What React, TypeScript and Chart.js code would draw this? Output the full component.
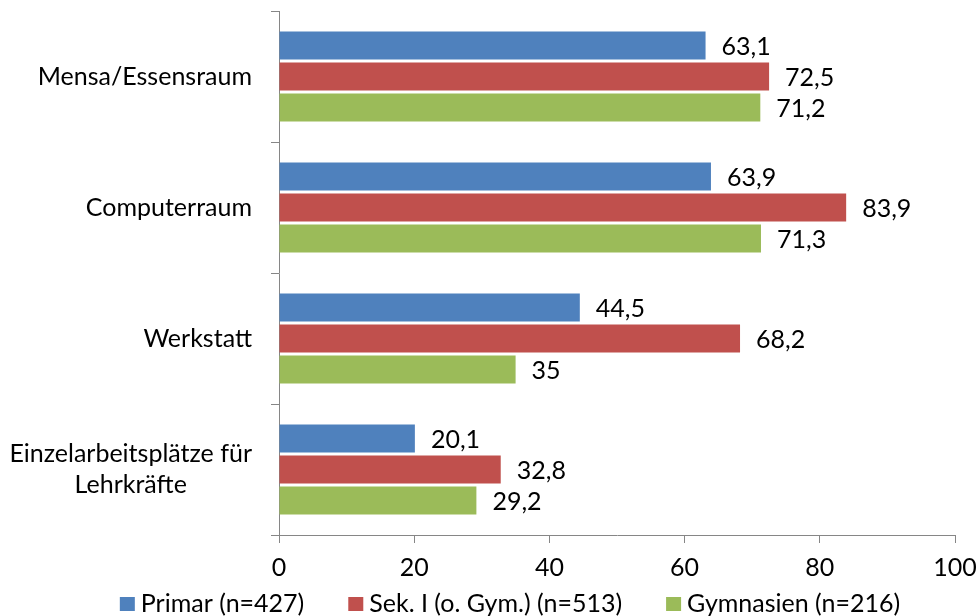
import { useEffect, useRef } from "react";
import { Chart, registerables } from "chart.js";

Chart.register(...registerables);

const categories: (string | string[])[] = [
  "Mensa/Essensraum",
  "Computerraum",
  "Werkstatt",
  ["Einzelarbeitsplätze für", "Lehrkräfte"],
];
const seriesNames = ["Primar (n=427)", "Sek. I (o. Gym.) (n=513)", "Gymnasien (n=216)"];
const primar = [63.1, 63.9, 44.5, 20.1];
const sekI = [72.5, 83.9, 68.2, 32.8];
const gymnasien = [71.2, 71.3, 35, 29.2];
const xTickValues = [0, 20, 40, 60, 80, 100];
const colors = ["#4F81BD", "#C0504D", "#9BBB59"];

const FONT_FAMILY = "Lato, 'Noto Sans', sans-serif";
const FONT_SIZE = 25;
const FONT = `${FONT_SIZE}px ${FONT_FAMILY}`;
const AXIS_COLOR = "#868686";

const fmt = (v: number) => String(v).replace(".", ",");

const yLabelPlugin = {
  id: "yLabels",
  afterDraw(chart: any) {
    const ctx = chart.ctx;
    const y = chart.scales.y;
    ctx.save();
    ctx.font = FONT;
    ctx.fillStyle = "#000";
    ctx.textBaseline = "middle";
    ctx.textAlign = "center";
    categories.forEach((lab, i) => {
      const lines = Array.isArray(lab) ? lab : [lab];
      const w = Math.max(...lines.map((l) => ctx.measureText(l).width));
      const cx = chart.chartArea.left - 27 - w / 2;
      const cy = y.getPixelForValue(i);
      lines.forEach((l, j) => ctx.fillText(l, cx, cy + (j - (lines.length - 1) / 2) * 31));
    });
    ctx.restore();
  },
};

const dataLabelPlugin = {
  id: "dataLabels",
  afterDatasetsDraw(chart: any) {
    const ctx = chart.ctx;
    ctx.save();
    ctx.font = FONT;
    ctx.fillStyle = "#000";
    ctx.textBaseline = "middle";
    ctx.textAlign = "left";
    chart.data.datasets.forEach((ds: any, di: number) => {
      const meta = chart.getDatasetMeta(di);
      meta.data.forEach((el: any, i: number) => {
        ctx.fillText(fmt(ds.data[i]), el.x + 16, el.y + 1);
      });
    });
    ctx.restore();
  },
};

const legendPlugin = {
  id: "customLegend",
  afterDraw(chart: any) {
    const ctx = chart.ctx;
    ctx.save();
    ctx.font = FONT;
    ctx.textBaseline = "middle";
    ctx.textAlign = "left";
    const box = 15;
    const gap = 6;
    const spacing = 44;
    const widths = seriesNames.map((n) => ctx.measureText(n).width);
    const total = widths.reduce((a, w) => a + box + gap + w, 0) + spacing * (seriesNames.length - 1);
    let x = 510 - total / 2;
    const cy = 604;
    seriesNames.forEach((n, i) => {
      ctx.fillStyle = colors[i];
      ctx.fillRect(x, cy - 7, box, 14);
      ctx.fillStyle = "#000";
      ctx.fillText(n, x + box + gap, cy);
      x += box + gap + widths[i] + spacing;
    });
    ctx.restore();
  },
};

export default function App() {
  const ref = useRef<HTMLCanvasElement>(null);
  useEffect(() => {
    document.body.style.margin = "0";
    const chart = new Chart(ref.current!, {
      type: "bar",
      data: {
        labels: categories.map((c) => (Array.isArray(c) ? c.join(" ") : c)),
        datasets: [
          { label: seriesNames[0], data: primar, backgroundColor: colors[0] },
          { label: seriesNames[1], data: sekI, backgroundColor: colors[1] },
          { label: seriesNames[2], data: gymnasien, backgroundColor: colors[2] },
        ],
      },
      options: {
        indexAxis: "y",
        animation: false,
        responsive: false,
        devicePixelRatio: 1,
        datasets: { bar: { categoryPercentage: 0.71, barPercentage: 0.903 } },
        layout: { padding: { top: 11, right: 23, left: 0, bottom: 0 } },
        plugins: { legend: { display: false }, tooltip: { enabled: false } },
        scales: {
          x: {
            min: 0,
            max: 100,
            afterBuildTicks: (s: any) => {
              s.ticks = xTickValues.map((v) => ({ value: v }));
            },
            ticks: { font: { family: FONT_FAMILY, size: FONT_SIZE }, color: "#000", padding: 10 },
            grid: { drawOnChartArea: false, drawTicks: true, tickLength: 8, color: AXIS_COLOR },
            border: { display: true, color: AXIS_COLOR },
            afterFit: (s: any) => {
              s.height = 81;
              s.paddingRight = 0;
              s.paddingLeft = 0;
            },
          },
          y: {
            type: "category",
            ticks: { display: false },
            grid: { offset: true, drawOnChartArea: false, drawTicks: true, tickLength: 8, color: AXIS_COLOR },
            border: { display: true, color: AXIS_COLOR },
            afterFit: (s: any) => {
              s.width = 279;
            },
          },
        },
      },
      plugins: [yLabelPlugin, dataLabelPlugin, legendPlugin],
    } as any);
    return () => chart.destroy();
  }, []);
  return <canvas ref={ref} width={978} height={616} />;
}
